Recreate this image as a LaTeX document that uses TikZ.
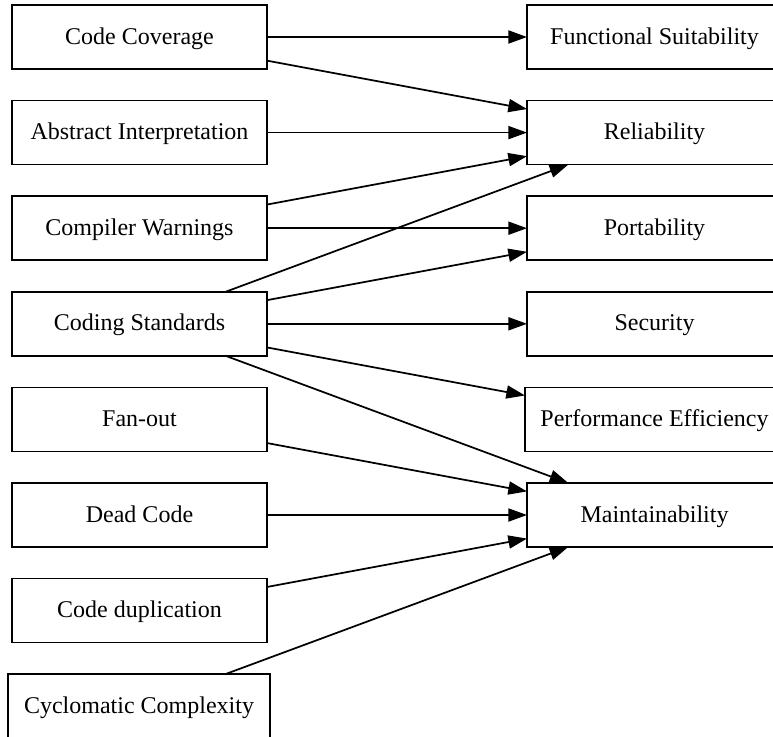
\documentclass[tikz,border=0pt]{standalone}
\usepackage{fontspec}
\setmainfont{Liberation Serif}
\usetikzlibrary{arrows.meta}
\begin{document}
\begin{tikzpicture}[x=0.75pt,y=-0.75pt,
  box/.style={draw,line width=1.3pt,rectangle,outer sep=0pt,inner sep=0pt,
    minimum width=191.25pt,minimum height=48pt,text height=10.6pt,text depth=0pt,
    font=\fontsize{18pt}{20pt}\selectfont},
  link/.style={line width=1.3pt,-{Triangle[length=14pt,width=9.8pt]}}]
\useasboundingbox (0,0) rectangle (773,736);
% metric boxes (left column)
\node[box] (cc)  at (139.5,37)    {Code Coverage};
\node[box] (ai)  at (139.5,132.6) {Abstract Interpretation};
\node[box] (cw)  at (139.5,228.2) {Compiler Warnings};
\node[box] (cs)  at (139.5,323.8) {Coding Standards};
\node[box] (fo)  at (139.5,419.4) {Fan-out};
\node[box] (dc)  at (139.5,515)   {Dead Code};
\node[box] (cd)  at (139.5,610.6) {Code duplication};
\node[box,minimum width=196.5pt] (cyc) at (139,706.2) {Cyclomatic Complexity};
% quality characteristics (right column)
\node[box] (fs)  at (654.5,37)    {Functional Suitability};
\node[box] (rel) at (654.5,132.6) {Reliability};
\node[box] (por) at (654.5,228.2) {Portability};
\node[box] (sec) at (654.5,323.8) {Security};
\node[box,minimum width=194.25pt] (pe) at (654.5,419.4) {Performance Efficiency};
\node[box] (mnt) at (654.5,515)   {Maintainability};
% relations
\draw[link] (cc) -- (fs);
\draw[link] (cc) -- (rel);
\draw[link] (ai) -- (rel);
\draw[link] (cw) -- (rel);
\draw[link] (cs) -- (rel);
\draw[link] (cw) -- (por);
\draw[link] (cs) -- (por);
\draw[link] (cs) -- (sec);
\draw[link] (cs) -- (pe);
\draw[link] (cs) -- (mnt);
\draw[link] (fo) -- (mnt);
\draw[link] (dc) -- (mnt);
\draw[link] (cd) -- (mnt);
\draw[link] (cyc) -- (mnt);
\end{tikzpicture}
\end{document}
